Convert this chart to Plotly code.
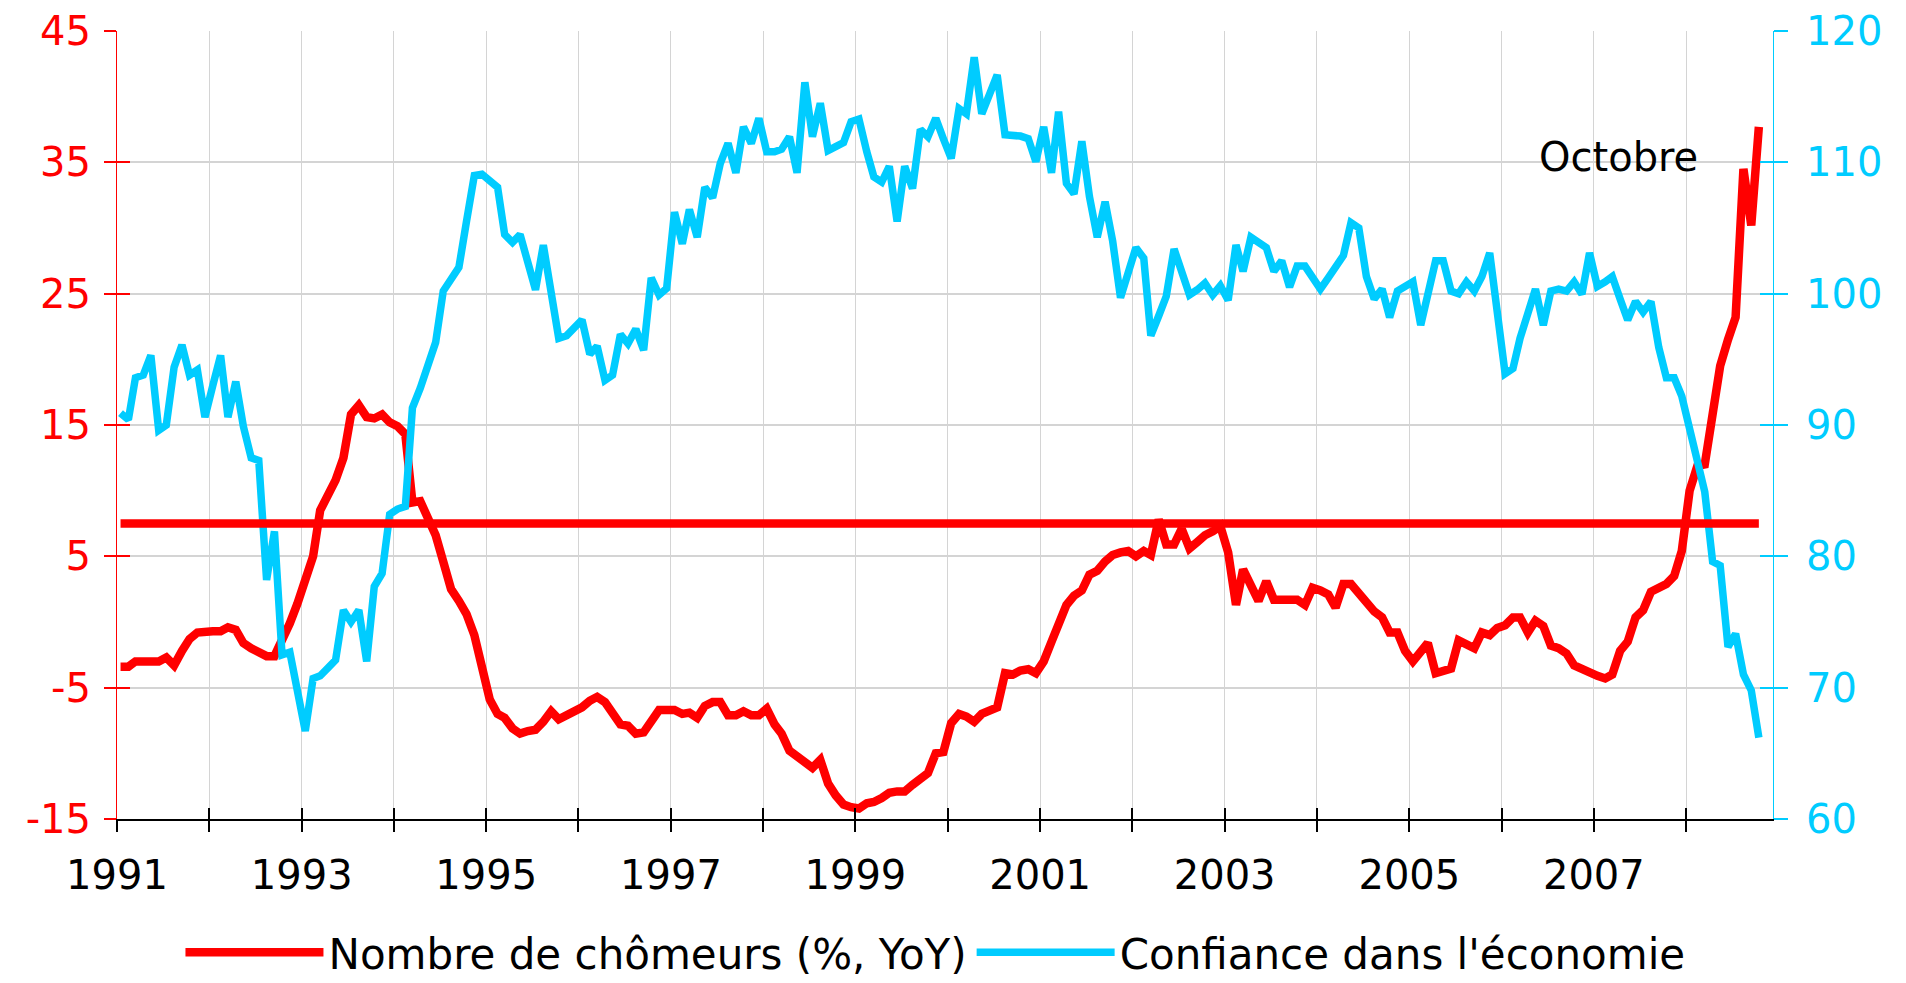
import plotly.graph_objects as go
import pandas as pd

# ---------------- data (monthly, Jan 1991 - Oct 2008) ----------------
unemployment_yoy = [
    -3.4, -3.4, -3.0, -3.0, -3.0, -3.0, -2.7, -3.3, -2.2, -1.3, -0.8, -0.7,   # 1991
    -0.7, -0.7, -0.4, -0.6, -1.6, -2.0, -2.3, -2.6, -2.6, -1.5, -0.1, 1.4,    # 1992
    3.2, 5.0, 8.5, 9.6, 10.8, 12.5, 15.8, 16.5, 15.6, 15.5, 15.8, 15.2,       # 1993
    14.9, 14.3, 9.1, 9.2, 8.0, 6.6, 4.6, 2.5, 1.6, 0.6, -1.0, -3.2,           # 1994
    -5.9, -7.0, -7.3, -8.1, -8.5, -8.3, -8.2, -7.6, -6.8, -7.4, -7.1, -6.9,   # 1995
    -6.5, -6.0, -5.7, -6.1, -7.0, -7.8, -7.9, -8.5, -8.4, -7.5, -6.7, -6.7,   # 1996
    -6.7, -7.0, -6.9, -7.3, -6.4, -6.1, -6.1, -7.1, -7.1, -6.8, -7.1, -7.1,   # 1997
    -6.6, -7.8, -8.5, -9.8, -10.2, -10.8, -11.1, -10.5, -12.3, -13.2, -13.9, -14.1,  # 1998
    -14.2, -13.8, -13.7, -13.4, -13.0, -12.9, -12.9, -12.4, -11.9, -11.5, -10.0, -9.9,  # 1999
    -7.7, -7.0, -7.2, -7.6, -7.0, -6.7, -6.5, -3.9, -4.0, -3.7, -3.6, -3.9,   # 2000
    -3.0, -1.5, 0.0, 1.3, 2.0, 2.4, 3.6, 3.9, 4.6, 5.1, 5.3, 5.4,             # 2001
    5.0, 5.4, 5.1, 7.8, 5.9, 5.9, 7.1, 5.6, 6.1, 6.6, 6.9, 7.3,               # 2002
    5.3, 1.3, 4.0, 2.8, 1.6, 3.1, 1.7, 1.7, 1.7, 1.7, 1.3, 2.6,               # 2003
    2.4, 2.1, 1.1, 2.9, 2.9, 2.2, 1.3, 0.8, 0.35, -0.8, -0.8, -2.2,           # 2004
    -3.0, -2.2, -1.6, -3.9, -3.7, -3.55, -1.4, -1.7, -2.0, -0.8, -1.0, -0.45, # 2005
    -0.25, 0.35, 0.35, -0.8, 0.1, -0.3, -1.8, -2.0, -2.4, -3.3, -3.6, -3.9,   # 2006
    -4.1, -4.3, -4.0, -2.2, -1.5, 0.35, 0.9, 2.3, 2.6, 2.9, 3.5, 5.4,         # 2007
    10.0, 11.9, 12.0, 15.8, 19.5, 21.5, 23.2, 34.5, 30.2, 37.7,               # 2008 (to Oct)
]

confidence = [
    90.9, 90.4, 93.6, 93.8, 95.3, 89.6, 90.0, 94.4, 96.1, 93.8, 94.2, 90.6,   # 1991
    93.0, 95.3, 90.6, 93.3, 89.9, 87.5, 87.3, 78.2, 81.9, 72.5, 72.7, 69.7,   # 1992
    66.7, 70.7, 70.9, 71.5, 72.1, 75.9, 75.0, 75.9, 72.0, 77.7, 78.7, 83.2,   # 1993
    83.6, 83.8, 91.3, 92.8, 94.5, 96.3, 100.2, 101.0, 102.0, 105.5, 109.0, 109.1,  # 1994
    108.5, 108.1, 104.5, 103.9, 104.5, 102.3, 100.3, 103.7, 99.6, 96.6, 96.8, 97.5,  # 1995
    98.0, 95.4, 96.0, 93.4, 93.8, 96.9, 96.2, 97.3, 95.7, 101.2, 99.9, 100.4,  # 1996
    106.2, 103.8, 106.4, 104.3, 108.1, 107.3, 109.9, 111.45, 109.2, 112.7, 111.45, 113.35,  # 1997
    110.8, 110.8, 111.0, 111.95, 109.2, 116.1, 111.95, 114.5, 110.9, 111.2, 111.5, 113.1,  # 1998
    113.3, 110.8, 108.9, 108.5, 109.7, 105.5, 109.7, 108.0, 112.5, 111.95, 113.35, 111.8,  # 1999
    110.3, 114.1, 113.7, 118.0, 113.7, 115.2, 116.65, 112.1, 112.1, 112.0, 111.8, 110.05,  # 2000
    112.7, 109.2, 113.85, 108.4, 107.6, 111.6, 107.4, 104.3, 107.0, 104.0, 99.7, 101.5,  # 2001
    103.5, 102.7, 96.8, 98.3, 99.8, 103.4, 101.7, 99.9, 100.3, 100.8, 99.9, 100.6,  # 2002
    99.5, 103.7, 101.7, 104.3, 103.9, 103.5, 101.7, 102.5, 100.5, 102.1, 102.1, 101.3,  # 2003
    100.35, 101.2, 102.1, 102.9, 105.4, 105.0, 101.3, 99.6, 100.35, 98.2, 100.2, 100.5,  # 2004
    100.9, 97.6, 99.9, 102.5, 102.5, 100.2, 100.0, 100.9, 100.2, 101.3, 103.1, 98.5,  # 2005
    93.9, 94.3, 96.6, 98.5, 100.35, 97.6, 100.2, 100.35, 100.2, 100.9, 99.96, 103.1,  # 2006
    100.55, 100.9, 101.3, 99.6, 98.0, 99.4, 98.6, 99.4, 95.9, 93.6, 93.6, 92.2,  # 2007
    89.6, 87.3, 84.9, 79.6, 79.3, 73.1, 74.1, 71.0, 69.8, 66.2,               # 2008 (to Oct)
]

threshold_level = 7.5

months = pd.date_range("1991-01-01", periods=len(unemployment_yoy), freq="MS") + pd.Timedelta(days=14)

year_ticks = [f"{y}-01-01" for y in range(1991, 2009)]
year_labels = [str(y) if y % 2 == 1 else "" for y in range(1991, 2009)]
left_ticks = [-15, -5, 5, 15, 25, 35, 45]
left_labels = ["-15", "-5", "5", "15", "25", "35", "45"]
right_ticks = [60, 70, 80, 90, 100, 110, 120]
right_labels = ["60", "70", "80", "90", "100", "110", "120"]

series_names = ["Nombre de chômeurs (%, YoY)", "Confiance dans l'économie"]
annotation_text = "Octobre"

RED = "#FF0000"
CYAN = "#00CCFF"
GRID = "#D4D4D4"
FONT = "DejaVu Sans"
X_RANGE = ["1991-01-01", "2008-12-10"]

fig = go.Figure()

fig.add_trace(go.Scatter(
    x=months, y=unemployment_yoy, name=series_names[0], mode="lines",
    line=dict(color=RED, width=8.5), xaxis="x", yaxis="y",
))
fig.add_trace(go.Scatter(
    x=months, y=[threshold_level] * len(months), mode="lines", showlegend=False,
    line=dict(color=RED, width=8.5), xaxis="x2", yaxis="y", hoverinfo="skip",
))
fig.add_trace(go.Scatter(
    x=months, y=confidence, name=series_names[1], mode="lines",
    line=dict(color=CYAN, width=7.5), xaxis="x", yaxis="y2",
))
# empty helpers so the inner-tick overlay axes are drawn
fig.add_trace(go.Scatter(x=[], y=[], xaxis="x", yaxis="y3", showlegend=False, hoverinfo="skip"))
fig.add_trace(go.Scatter(x=[], y=[], xaxis="x", yaxis="y4", showlegend=False, hoverinfo="skip"))

fig.update_layout(
    width=1906, height=983,
    margin=dict(l=117, r=133, t=31, b=164, autoexpand=False),
    paper_bgcolor="white", plot_bgcolor="white",
    font=dict(family=FONT, size=40, color="black"),
    showlegend=True,
    legend=dict(
        orientation="h", xref="container", yref="container",
        x=0.4908, xanchor="center", y=0.031, yanchor="middle",
        itemwidth=138, font=dict(family=FONT, size=42, color="black"),
        bgcolor="rgba(0,0,0,0)", traceorder="normal",
    ),
    xaxis=dict(
        type="date", range=X_RANGE, tickmode="array", tickvals=year_ticks, ticktext=year_labels,
        ticks="outside", ticklen=11, tickwidth=1.5, tickcolor="black",
        showline=True, linecolor="black", linewidth=1.5,
        showgrid=True, gridcolor=GRID, gridwidth=1.3, zeroline=False, automargin=False,
        tickfont=dict(family=FONT, size=40, color="black"), ticklabelstandoff=9,
    ),
    xaxis2=dict(
        type="date", range=X_RANGE, overlaying="x", side="bottom", anchor="y",
        tickmode="array", tickvals=year_ticks, ticks="inside", ticklen=11, tickwidth=1.5,
        tickcolor="black", showticklabels=False, showgrid=False, showline=False, zeroline=False,
        automargin=False,
    ),
    yaxis=dict(
        range=[-15, 45], tickmode="array", tickvals=left_ticks, ticktext=left_labels,
        ticks="outside", ticklen=12, tickwidth=1.5, tickcolor=RED,
        showline=True, linecolor=RED, linewidth=1,
        showgrid=True, gridcolor=GRID, gridwidth=2, zeroline=False, automargin=False,
        tickfont=dict(family=FONT, size=40, color=RED), ticklabelstandoff=5,
    ),
    yaxis2=dict(
        range=[60, 120], overlaying="y", side="right", anchor="x",
        tickmode="array", tickvals=right_ticks, ticktext=right_labels,
        ticks="outside", ticklen=14, tickwidth=1.5, tickcolor=CYAN,
        showline=True, linecolor=CYAN, linewidth=1,
        showgrid=False, zeroline=False, automargin=False,
        tickfont=dict(family=FONT, size=40, color=CYAN), ticklabelstandoff=10,
    ),
    yaxis3=dict(
        range=[-15, 45], overlaying="y", side="left", anchor="x",
        tickmode="array", tickvals=left_ticks, ticks="inside", ticklen=13, tickwidth=1.5,
        tickcolor=RED, showticklabels=False, showgrid=False, showline=False, zeroline=False,
        automargin=False,
    ),
    yaxis4=dict(
        range=[60, 120], overlaying="y", side="right", anchor="x",
        tickmode="array", tickvals=right_ticks, ticks="inside", ticklen=13, tickwidth=1.5,
        tickcolor=CYAN, showticklabels=False, showgrid=False, showline=False, zeroline=False,
        automargin=False,
    ),
    annotations=[dict(
        text=annotation_text, xref="paper", yref="paper", x=0.9069, y=0.840,
        xanchor="center", yanchor="middle", showarrow=False,
        font=dict(family=FONT, size=40, color="black"),
    )],
)

fig.write_html(
    "out.html",
    config={"displayModeBar": False},
    post_script="document.body.style.margin='0';",
)
